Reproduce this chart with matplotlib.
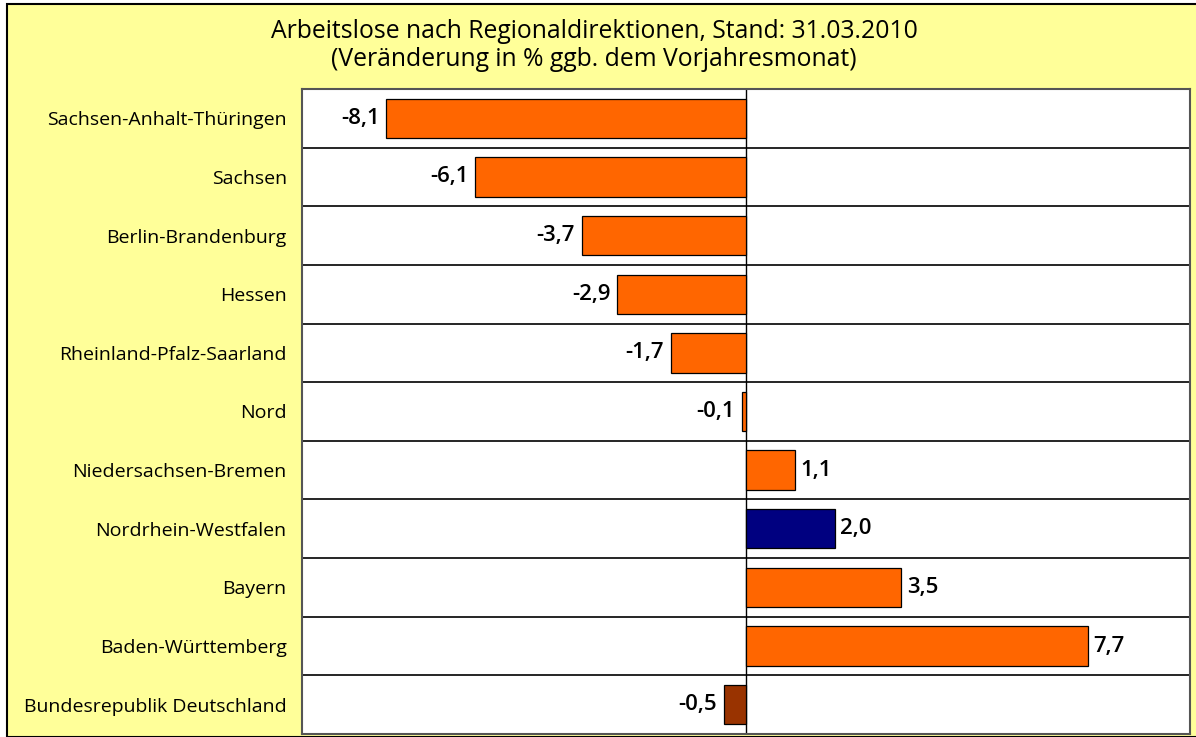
import matplotlib.pyplot as plt
from matplotlib.patches import Rectangle

regionen = ['Sachsen-Anhalt-Thüringen', 'Sachsen', 'Berlin-Brandenburg', 'Hessen',
            'Rheinland-Pfalz-Saarland', 'Nord', 'Niedersachsen-Bremen',
            'Nordrhein-Westfalen', 'Bayern', 'Baden-Württemberg',
            'Bundesrepublik Deutschland']
werte = [-8.1, -6.1, -3.7, -2.9, -1.7, -0.1, 1.1, 2.0, 3.5, 7.7, -0.5]
farben = ['#FF6600'] * 7 + ['#000080', '#FF6600', '#FF6600', '#993300']

plt.rcParams['font.family'] = ['Open Sans', 'DejaVu Sans']

W, H = 1196, 737
fig = plt.figure(figsize=(W / 100, H / 100), dpi=100)
fig.patch.set_facecolor('white')

# gelber Hintergrund mit Rahmen
fig.patches.append(Rectangle((7 / W, 0), 1.0, (H - 4) / H, transform=fig.transFigure,
                             facecolor='#FFFF99', edgecolor='black', linewidth=1.5, zorder=-1))

ax = fig.add_axes([302 / W, (H - 734) / H, (1190 - 302) / W, (734 - 89) / H])
ax.set_facecolor('white')

y = list(range(len(regionen)))
ax.barh(y, werte, height=0.67, color=farben, edgecolor='black', linewidth=0.9, zorder=3)

for yi, v in zip(y, werte):
    txt = f'{v:.1f}'.replace('.', ',')
    if v < 0:
        ax.text(v - 0.15, yi, txt, ha='right', va='center', fontsize=16,
                fontweight='semibold', zorder=4)
    else:
        ax.text(v + 0.12, yi, txt, ha='left', va='center', fontsize=16,
                fontweight='semibold', zorder=4)

ax.set_xlim(-10, 10)
ax.set_ylim(len(regionen) - 0.5, -0.5)
ax.set_yticks(y)
ax.set_yticklabels(regionen, fontsize=14)
ax.tick_params(axis='y', length=0, pad=11)
ax.set_xticks([])

for b in [i + 0.5 for i in range(len(regionen) - 1)]:
    ax.axhline(b, color='black', linewidth=1.2, zorder=2)
ax.axvline(0, color='black', linewidth=1.0, zorder=2)

for s in ax.spines.values():
    s.set_color('#555555')
    s.set_linewidth(1.5)

fig.text(594 / W, 1 - 32 / H, 'Arbeitslose nach Regionaldirektionen, Stand: 31.03.2010',
         ha='center', va='center', fontsize=17.8)
fig.text(594 / W, 1 - 60 / H, '(Veränderung in % ggb. dem Vorjahresmonat)',
         ha='center', va='center', fontsize=17.8)

plt.savefig('out.png', dpi=100)
